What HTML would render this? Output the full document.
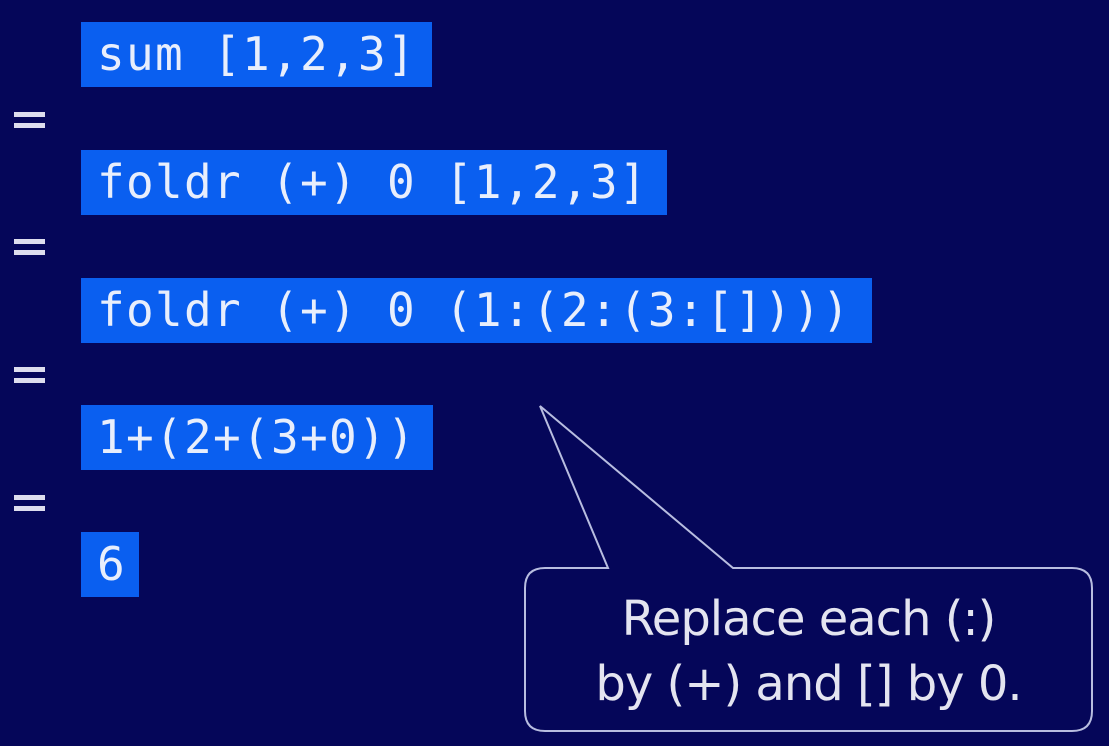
<!DOCTYPE html>
<html><head><meta charset="utf-8"><style>
body{margin:0;width:1109px;height:746px;background:#050659;overflow:hidden;position:relative;font-family:"DejaVu Sans Mono","Liberation Mono",monospace;}
.b{position:absolute;left:81px;height:65px;background:#0a5ff0;color:#e8eefc;font-size:46px;line-height:65px;padding-left:16px;box-sizing:border-box;white-space:pre;letter-spacing:1.3px;}
.eq{position:absolute;left:14px;width:31px;height:16px;border-top:5px solid #dde;border-bottom:5px solid #dde;box-sizing:border-box;}
.t{position:absolute;left:525px;width:567px;text-align:center;color:#e4e4f0;font-family:"DejaVu Sans","Liberation Sans",sans-serif;font-size:48px;white-space:pre;letter-spacing:-1px;}
</style></head><body>
<div class="b" style="top:22px;width:351px">sum [1,2,3]</div>
<div class="b" style="top:150px;width:586px">foldr (+) 0 [1,2,3]</div>
<div class="b" style="top:278px;width:791px">foldr (+) 0 (1:(2:(3:[])))</div>
<div class="b" style="top:405px;width:352px">1+(2+(3+0))</div>
<div class="b" style="top:532px;width:58px">6</div>
<div class="eq" style="top:112px"></div>
<div class="eq" style="top:239px"></div>
<div class="eq" style="top:367px"></div>
<div class="eq" style="top:495px"></div>
<svg width="1109" height="746" style="position:absolute;left:0;top:0">
<path d="M545,568 H608 L540,406 L733,568 H1072 Q1092,568 1092,588 V711 Q1092,731 1072,731 H545 Q525,731 525,711 V588 Q525,568 545,568 Z" fill="#050659" stroke="#b8bde0" stroke-width="2"/>
</svg>
<div class="t" style="top:591px">Replace each (:)</div>
<div class="t" style="top:656px">by (+) and [] by 0.</div>
</body></html>
